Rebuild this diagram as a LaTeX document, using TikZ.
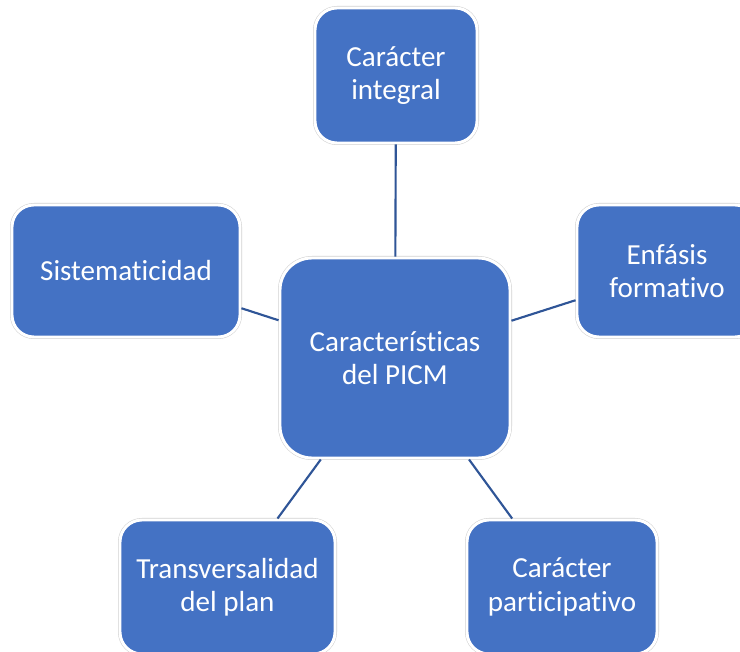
\documentclass[tikz,border=0pt]{standalone}
\usepackage{fontspec}
\setmainfont[Ligatures=NoCommon]{Carlito}
\definecolor{boxblue}{HTML}{4472C4}
\definecolor{lineblue}{HTML}{2F5597}

\begin{document}
\begin{tikzpicture}[x=0.75pt,y=-0.75pt,
    caract/.style ={rectangle, fill=boxblue, draw=white, line width=2.2pt,
      preaction={draw=black!18, line width=3pt},
      rounded corners=16.5pt, text=white, align=center, inner sep=0pt,
      font=\fontsize{21.8}{25}\selectfont},
    enlace/.style ={draw=lineblue, line width=1.6pt}]
   \useasboundingbox (0,0) rectangle (740,652);
   \clip (0,0) rectangle (740,652);
   \node[caract, minimum width=121.5pt, minimum height=101.25pt] (integral) at (396,75.5) {Carácter\\integral};
   \node[caract, minimum width=171pt, minimum height=99pt] (sistema) at (126,271) {Sistematicidad};
   \node[caract, minimum width=135pt, minimum height=99pt] (enfasis) at (667,271) {Enfásis\\formativo};
   \node[caract, minimum width=161.25pt, minimum height=100.5pt] (transv) at (227.5,587) {Transversalidad\\del plan};
   \node[caract, minimum width=142.5pt, minimum height=100.5pt] (partic) at (562,587) {Carácter\\participativo};
   \node[caract, minimum width=172.5pt, minimum height=150pt, rounded corners=24pt] (o) at (395,358) {Características\\del PICM};
   \draw[enlace] (o) to (integral);
   \draw[enlace] (o) to (sistema);
   \draw[enlace] (o) to (enfasis);
   \draw[enlace] (o) to (transv);
   \draw[enlace] (o) to (partic);
 \end{tikzpicture}
\end{document}
